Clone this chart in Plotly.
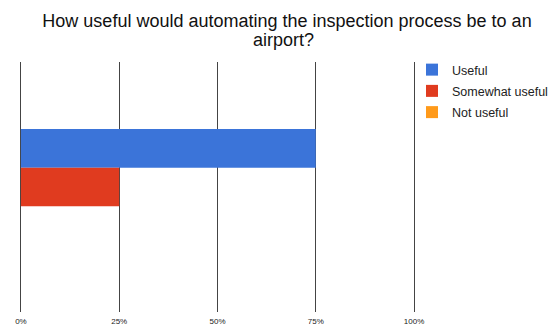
import plotly.graph_objects as go

categories = ["Q"]
series_names = ["Useful", "Somewhat useful", "Not useful"]
series_values = [[75], [25], [0]]
colors = ["#3b74d9", "#e03b1f", "#ff9a1a"]
tick_vals = [0, 25, 50, 75, 100]
tick_text = ["0%", "25%", "50%", "75%", "100%"]
title_lines = ["How useful would automating the inspection process be to an", "airport?"]

fig = go.Figure()
for i, (name, vals, c) in enumerate(zip(series_names, series_values, colors)):
    fig.add_trace(go.Bar(x=vals, y=categories, name=name, orientation="h",
                         legendgroup=f"g{i}",
                         marker=dict(color=c, line=dict(width=0))))

fig.update_layout(
    width=551, height=328,
    margin=dict(l=17, r=133, t=62, b=16, autoexpand=False),
    paper_bgcolor="white", plot_bgcolor="white",
    barmode="group", bargap=0.536, bargroupgap=0,
    font=dict(family="Liberation Sans, Arial", color="#222"),
    title=dict(text=title_lines[0], xref="container", x=287 / 551, xanchor="center",
               yref="container", y=1 - 21 / 328, yanchor="middle",
               font=dict(size=18, color="#111")),
    annotations=[dict(text=title_lines[1], xref="paper", yref="paper",
                      x=(283 - 17) / 401, y=1 + (62 - 40) / 250,
                      xanchor="center", yanchor="middle", showarrow=False,
                      font=dict(size=18, color="#111"))],
    showlegend=True,
    legend=dict(xref="container", yref="container",
                x=412 / 551, xanchor="left", y=1 - 55 / 328, yanchor="top",
                font=dict(size=12.5, color="#222"), itemwidth=30,
                tracegroupgap=2, bgcolor="rgba(0,0,0,0)"),
    xaxis=dict(range=[-1, 101], tickvals=tick_vals, ticktext=tick_text,
               showgrid=True, gridcolor="#444", gridwidth=1, zeroline=False,
               showline=False, ticks="", automargin=False, ticklabelstandoff=3,
               tickfont=dict(size=8, color="#222")),
    yaxis=dict(autorange="reversed", showticklabels=False, showgrid=False,
               zeroline=False, showline=False, ticks="", automargin=False),
)
fig.write_html("out.html")
